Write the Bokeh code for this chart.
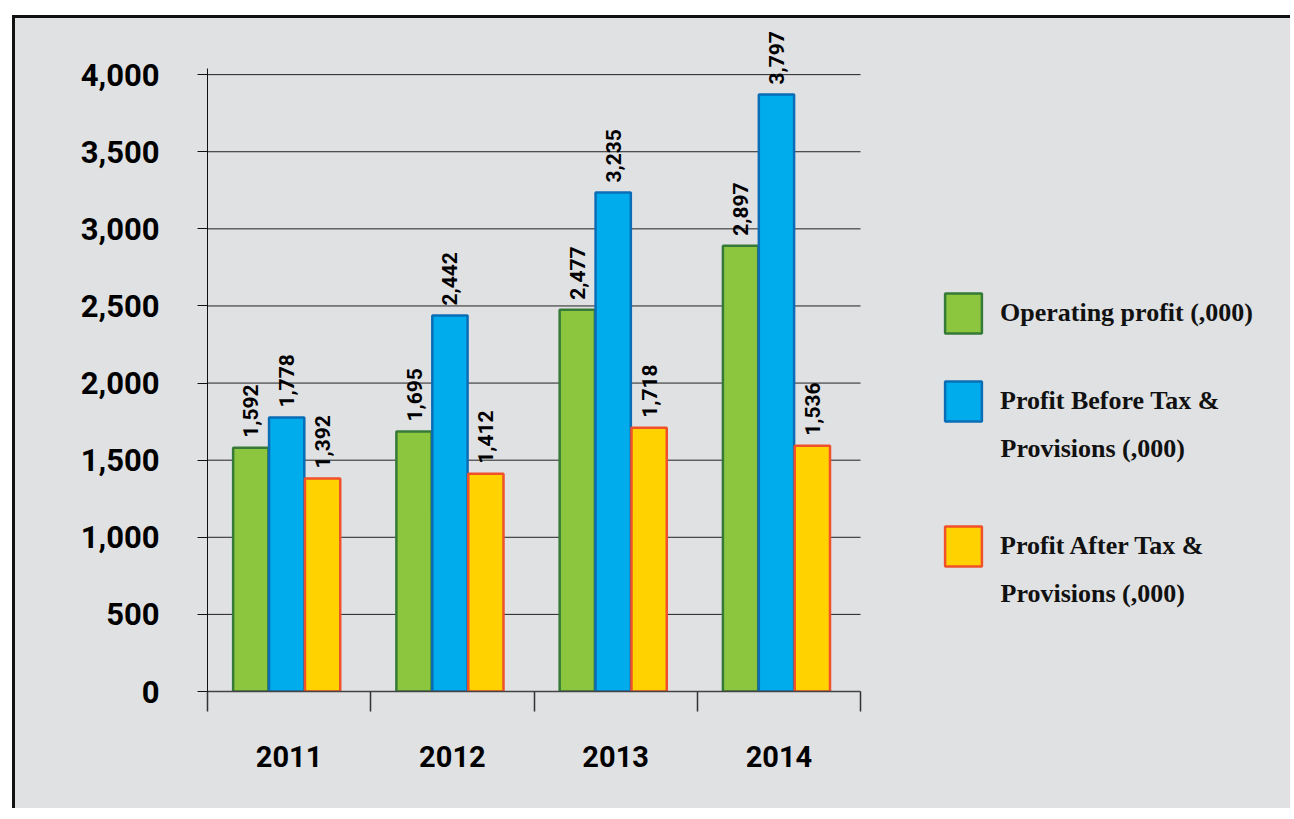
from bokeh.plotting import figure
from bokeh.models import (ColumnDataSource, FixedTicker, NumeralTickFormatter, Legend,
                          LegendItem, Label)
from bokeh.transform import dodge
from bokeh.core.properties import value
from bokeh.embed import file_html
from bokeh.resources import INLINE

# ---- data ----
years = ["2011", "2012", "2013", "2014"]
operating_profit = [1580, 1686, 2475, 2890]
profit_before_tax = [1776, 2438, 3236, 3871]
profit_after_tax = [1381, 1412, 1710, 1593]
operating_labels = ["1,592", "1,695", "2,477", "2,897"]
before_labels = ["1,778", "2,442", "3,235", "3,797"]
after_labels = ["1,392", "1,412", "1,718", "1,536"]
series_names = ["Operating profit (,000)", "Profit Before Tax &", "Profit After Tax &"]
second_lines = ["", "Provisions (,000)", "Provisions (,000)"]
y_ticks = [0, 500, 1000, 1500, 2000, 2500, 3000, 3500, 4000]

BG = "#e0e1e3"
W, H = 1278, 793
NUM_FONT = "Roboto"

xc = [i + 0.5 for i in range(len(years))]
src = ColumnDataSource(dict(x=xc, op=operating_profit, bt=profit_before_tax, at=profit_after_tax,
                            opl=operating_labels, btl=before_labels, atl=after_labels))

# frame covers the whole right/top part; axes are bounded to the chart area
p = figure(width=W, height=H, x_range=(0, 6.652), y_range=(0, 4364),
           output_backend="svg", toolbar_location=None,
           min_border_left=192, min_border_right=0, min_border_top=0, min_border_bottom=120)
p.background_fill_color = None
p.border_fill_color = None
p.outline_line_color = None
p.margin = (15, 0, 0, 12)
p.styles = {"border-left": "3px solid #111", "border-top": "3px solid #111",
            "background-color": BG}

# axes
p.xaxis.bounds = (0, 4)
p.xaxis.ticker = FixedTicker(ticks=xc, minor_ticks=[0, 1, 2, 3, 4])
p.xaxis.major_label_overrides = {x: y for x, y in zip(xc, years)}
p.xaxis.major_tick_out = 0
p.xaxis.major_tick_in = 0
p.xaxis.minor_tick_out = 20
p.xaxis.minor_tick_in = 0
p.xaxis.minor_tick_line_color = "#333333"
p.xaxis.minor_tick_line_width = 1.5
p.xaxis.axis_line_color = "#444444"
p.xaxis.axis_line_width = 1.5
p.xaxis.major_label_standoff = 34
p.xaxis.major_label_text_font = NUM_FONT
p.xaxis.major_label_text_font_style = "bold"
p.xaxis.major_label_text_font_size = "29px"
p.xaxis.major_label_text_color = "#000000"

p.yaxis.bounds = (0, 4040)
p.yaxis.ticker = FixedTicker(ticks=y_ticks)
p.yaxis.formatter = NumeralTickFormatter(format="0,0")
p.yaxis.major_tick_out = 10
p.yaxis.major_tick_in = 0
p.yaxis.minor_tick_line_color = None
p.yaxis.axis_line_color = "#111111"
p.yaxis.major_tick_line_color = "#111111"
p.yaxis.major_label_standoff = 38
p.yaxis.major_label_text_font = NUM_FONT
p.yaxis.major_label_text_font_style = "bold"
p.yaxis.major_label_text_font_size = "31px"
p.yaxis.major_label_text_color = "#000000"

p.xgrid.grid_line_color = None
p.ygrid.grid_line_color = None
# horizontal grid lines limited to the chart area
p.segment(x0=0, x1=4, y0=y_ticks[1:], y1=y_ticks[1:], line_color="#222222", line_width=1)

# bars
bw = 0.216
specs = [
    ("op", "opl", -0.235, "#8cc63f", "#367a38"),
    ("bt", "btl", -0.015, "#00acec", "#0a6db5"),
    ("at", "atl", 0.205, "#ffd200", "#f0502a"),
]
renderers = []
for col, lcol, off, fill, line in specs:
    r = p.vbar(x=dodge("x", off, range=p.x_range), top=col, bottom=0, width=bw, source=src,
               fill_color=fill, line_color=line, line_width=2.5)
    renderers.append(r)
    p.text(x=dodge("x", off, range=p.x_range), y=col, text=lcol, source=src,
           angle=1.5708, text_align="left", text_baseline="middle", y_offset=-10,
           text_font=value(NUM_FONT), text_font_style="bold",
           text_font_size="21px", text_color="#000000")

# legend (one per entry for exact placement)
legend_bottoms = [353, 265, 120]  # px above frame bottom
for r, name, lb in zip(renderers, series_names, legend_bottoms):
    lg = Legend(items=[LegendItem(label=name, renderers=[r])], location=(733, lb),
                glyph_width=46, glyph_height=50, label_height=50, label_standoff=14,
                padding=0, margin=0, border_line_color=None, background_fill_alpha=0,
                label_text_font="Liberation Serif", label_text_font_style="bold",
                label_text_font_size="26px", label_text_color="#111111")
    p.add_layout(lg)

for txt, lb in zip(second_lines, legend_bottoms):
    if txt:
        p.add_layout(Label(x=793, y=lb + 25 - 47, x_units="screen", y_units="screen", text=txt,
                           text_baseline="middle", text_align="left",
                           text_font="Liberation Serif", text_font_style="bold",
                           text_font_size="26px", text_color="#111111"))

open("out.html", "w").write(file_html(p, INLINE))
